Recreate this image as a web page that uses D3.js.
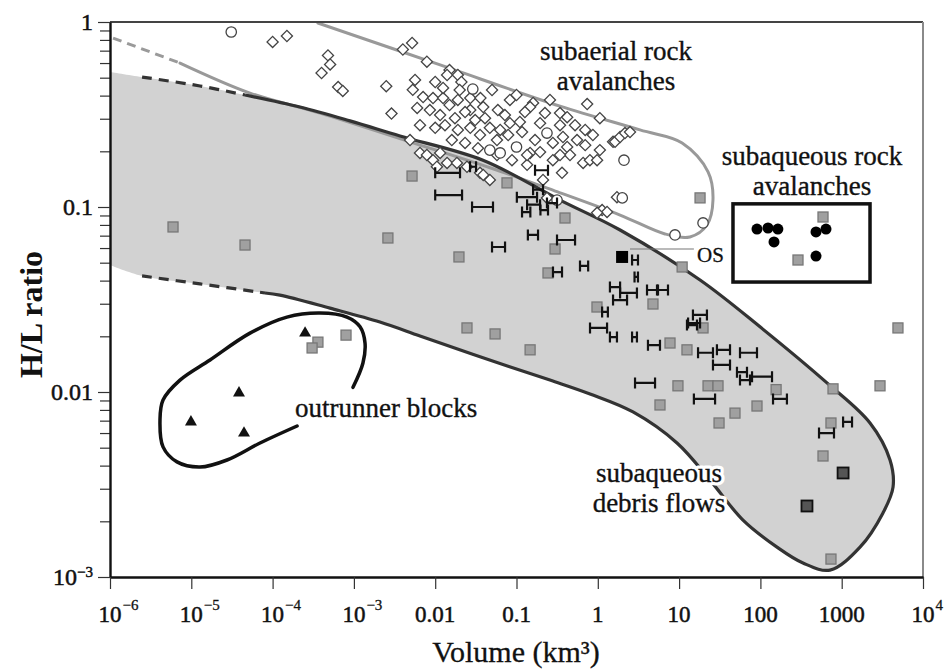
<!DOCTYPE html>
<html><head><meta charset="utf-8">
<script src="https://cdn.jsdelivr.net/npm/d3@7"></script>
<style>
body{margin:0;background:#fff}
text{font-family:"Liberation Serif","Times New Roman",serif;fill:#111}
</style>
</head><body>
<svg id="c" width="947" height="670"></svg>
<script>
// ---------------- DATA (volume km³, H/L ratio) ----------------
const xTickValues = [1e-6,1e-5,1e-4,1e-3,1e-2,1e-1,1,10,100,1000,1e4];
const xTickLabels = [["10","−6"],["10","−5"],["10","−4"],["10","−3"],["0.01",""],["0.1",""],["1",""],["10",""],["100",""],["1000",""],["10","4"]];
const yTickValues = [1e-3,1e-2,1e-1,1];
const yTickLabels = [["10","−3"],["0.01",""],["0.1",""],["1",""]];

// subaqueous debris flow envelope (grey field)
const debrisUpper = [[1e-6,0.537],[2.48e-6,0.504],[1.28e-5,0.451],[4.58e-5,0.403],[2.17e-4,0.347],[8.95e-4,0.292],[3.69e-3,0.242],[0.0387,0.179],[0.343,0.109],[1.88,0.0751],[18.1,0.0403],[98.9,0.0225],[659,0.0112],[2230,0.0068],[3930,0.00429],[4280,0.00306],[3220,0.00222],[1680,0.00145],[718,0.00109]];
const debrisLower = [[334,0.00119],[160,0.00145],[61.1,0.00203],[24.0,0.00334],[9.42,0.0053],[2.71,0.0078],[0.802,0.00976],[0.258,0.0116],[0.0356,0.0155],[6.5e-3,0.0201],[2.09e-3,0.0239],[5.08e-4,0.0284],[1.23e-4,0.0334],[8.07e-5,0.0343],[1.28e-5,0.0384],[2.48e-6,0.0424],[1e-6,0.0486]];
const debrisDashUpper = [[2.48e-6,0.504],[1.28e-5,0.451],[4.58e-5,0.403]];
const debrisDashLower = [[2.48e-6,0.0424],[1.28e-5,0.0384],[8.07e-5,0.0343]];

// subaerial rock avalanche envelope
const subaerialDash = [[1.09e-6,0.819],[7.26e-6,0.600]];
const subaerialEnvelope = [[7.26e-6,0.600],[5.27e-5,0.413],[3.83e-4,0.322],[4.9e-3,0.225],[0.0472,0.163],[0.315,0.121],[1.88,0.0905],[6.71,0.0715],[13.6,0.0689],[22.0,0.0799],[26.1,0.109],[22.7,0.155],[10.9,0.222],[3.30,0.261],[0.343,0.351],[0.0115,0.586],[3.61e-4,0.988]];

// outrunner blocks envelope
const outrunnerEnvelope = [[2.0e-4,0.00655],[7.0e-5,0.0053],[2.75e-5,0.00429],[1.28e-5,0.00393],[6.67e-6,0.00419],[4.49e-6,0.00505],[4.12e-6,0.00706],[4.49e-6,0.00905],[7.26e-6,0.0116],[1.70e-5,0.0149],[5.27e-5,0.0208],[1.50e-4,0.0254],[3.83e-4,0.0267],[8.22e-4,0.0254],[1.19e-3,0.0225],[1.37e-3,0.0184],[1.29e-3,0.0143],[9.75e-4,0.0106]];

// subaqueous rock avalanche box corners
const rockBox = [[46.0,0.104],[2230,0.0393]];
// OS leader line
const osLeader = [[2.49,0.0593],[15.2,0.0593]];

// subaerial rock avalanches (open diamonds)
const subaerialDiamonds = [[1.0e-4,0.78],[1.5e-4,0.84],[4.8e-4,0.66],[5.1e-4,0.59],[4.0e-4,0.53],[6.4e-4,0.445],[7.3e-4,0.424],[2.5e-3,0.45],[4.0e-3,0.71],[5.2e-3,0.77],[7.9e-3,0.61],[0.010,0.474],[5.3e-3,0.43],[2.9e-3,0.32],[6.0e-3,0.343],[0.015,0.55],[0.014,0.517],[0.019,0.517],[0.021,0.474],[0.020,0.429],[0.050,0.429],[7.1e-3,0.393],[9.4e-3,0.388],[0.0125,0.388],[0.10,0.403],[0.16,0.365],[0.147,0.347],[0.74,0.36],[0.059,0.334],[0.039,0.347],[0.027,0.334],[0.195,0.284],[0.083,0.284],[0.11,0.288],[0.343,0.322],[0.42,0.306],[0.373,0.239],[0.28,0.222],[0.42,0.211],[0.555,0.23],[0.147,0.196],[0.195,0.198],[0.0575,0.23],[0.66,0.173],[0.80,0.179],[0.98,0.179],[1.54,0.225],[0.363,0.153],[4.9e-3,0.23],[6.5e-3,0.196],[7.9e-3,0.191],[9.4e-3,0.179],[0.0115,0.196],[0.014,0.173],[0.0185,0.173],[0.0246,0.165],[0.0356,0.153],[0.047,0.14],[0.0105,0.165],[0.237,0.112],[1.13,0.0963],[1.30,0.094],[1.72,0.113],[1.63,0.225],[1.88,0.239],[2.16,0.251],[2.49,0.254],[8.6e-3,0.334],[0.0115,0.314],[0.015,0.356],[0.0175,0.302],[0.0233,0.326],[0.031,0.295],[0.041,0.302],[0.0132,0.277],[0.019,0.261],[0.027,0.268],[0.0356,0.245],[0.047,0.268],[0.010,0.268],[0.016,0.23],[0.0233,0.222],[0.0336,0.208],[0.063,0.261],[0.079,0.245],[0.083,0.379],[0.127,0.326],[0.072,0.314],[0.258,0.379],[0.224,0.322],[0.169,0.23],[0.117,0.254],[0.343,0.277],[0.525,0.277],[0.70,0.261],[0.87,0.245],[1.06,0.302],[0.455,0.191],[0.28,0.179],[0.135,0.169],[0.088,0.179],[6.5e-3,0.277],[5.65e-3,0.486],[0.027,0.388],[0.036,0.388],[0.019,0.379],[0.0125,0.44],[1.06,0.203],[0.70,0.216],[0.212,0.14],[0.98,0.093],[0.039,0.149],[0.343,0.191],[0.0575,0.191],[0.135,0.191]];
// subaerial rock avalanches (open circles)
const subaerialCircles = [[3.1e-5,0.883],[2.1,0.179],[2.0,0.112],[19.7,0.082],[8.9,0.0706],[0.315,0.109],[0.029,0.434],[0.237,0.251],[0.10,0.211],[0.063,0.196],[0.047,0.203]];

// subaqueous debris flows (grey squares)
const debrisSquares = [[5.96e-6,0.078],[4.58e-5,0.0623],[2.62e-3,0.068],[0.0196,0.0537],[5.19e-3,0.147],[0.0764,0.135],[0.395,0.0872],[0.298,0.0593],[0.244,0.044],[0.977,0.0288],[4.77,0.0299],[10.9,0.0474],[0.0246,0.0222],[0.0545,0.0206],[0.147,0.0169],[7.73,0.0184],[12.5,0.0169],[9.68,0.0108],[5.82,0.00851],[18.1,0.112],[19.7,0.0222],[22.7,0.0108],[30.1,0.0108],[48.7,0.00769],[31.0,0.0068],[90.8,0.0084],[156,0.0103],[782,0.0104],[2960,0.0108],[4920,0.0222],[738,0.0068],[589,0.00451],[738,0.00125],[589,0.0883],[290,0.0517],[3.61e-4,0.0186],[3.06e-4,0.0173],[8.0e-4,0.0203]];
const darkSquares = [[1040,0.00365],[374,0.00242]];
const blackSquares = [[1.99,0.0537]];

// volume ranges (horizontal bars): [Vmin, Vmax, H/L]
const volumeRanges = [[0.0100,0.0202,0.153],[0.0100,0.0214,0.116],[0.0284,0.0514,0.100],[0.101,0.179,0.113],[0.135,0.195,0.103],[0.237,0.315,0.105],[0.160,0.212,0.124],[0.169,0.244,0.158],[0.138,0.184,0.0706],[0.315,0.525,0.0663],[0.0500,0.0723,0.0608],[0.604,0.761,0.048],[0.281,0.363,0.0445],[1.41,1.88,0.0369],[1.88,3.03,0.0343],[1.54,2.29,0.0314],[4.03,5.35,0.0356],[5.50,7.30,0.0356],[2.64,3.12,0.0517],[2.83,3.12,0.0419],[1.13,1.33,0.0271],[0.802,1.30,0.0222],[1.41,1.72,0.0198],[2.64,3.03,0.0198],[4.14,5.82,0.0179],[2.87,5.06,0.0112],[12.9,18.1,0.0236],[14.8,22.0,0.0261],[12.5,16.6,0.0230],[17.1,26.1,0.0163],[29.2,42.3,0.0169],[56.1,90.8,0.0163],[26.1,42.3,0.0140],[51.5,68.4,0.0128],[78.9,139,0.0121],[56.1,74.5,0.0116],[15.2,27.7,0.00917],[143,212,0.00917],[1040,1340,0.00689],[526,804,0.0060],[0.0268,0.0318,0.165],[0.117,0.148,0.0939],[0.197,0.244,0.0963]];

// outrunner blocks (triangles)
const outrunnerBlocks = [[2.51e-4,0.0208],[3.86e-5,0.00988],[9.9e-6,0.00689],[4.45e-5,0.0060]];
// subaqueous rock avalanches (black dots)
const subaqueousRock = [[90.8,0.076],[124,0.077],[164,0.076],[147,0.0647],[483,0.0733],[641,0.076],[483,0.0543]];

// ---------------- DRAWING ----------------
const m = {l:110, r:923, t:22, b:577};
const x = d3.scaleLog().domain([1e-6,1e4]).range([m.l,m.r]);
const y = d3.scaleLog().domain([1e-3,1]).range([m.b,m.t]);
const svg = d3.select("#c");

svg.append("defs").append("clipPath").attr("id","plot")
  .append("rect").attr("x",m.l).attr("y",m.t).attr("width",m.r-m.l).attr("height",m.b-m.t);
const g = svg.append("g").attr("clip-path","url(#plot)");

const smooth = d3.line().x(d=>x(d[0])).y(d=>y(d[1])).curve(d3.curveCatmullRom.alpha(0.5));
const straight = d3.line().x(d=>x(d[0])).y(d=>y(d[1]));

// grey field
g.append("path").attr("d", smooth(debrisUpper.concat(debrisLower))+"Z")
  .attr("fill","#d2d2d2").attr("stroke","none");

// subaerial envelope
g.append("path").attr("d", straight(subaerialDash)).attr("fill","none")
  .attr("stroke","#9a9a9a").attr("stroke-width",3).attr("stroke-dasharray","9,6");
g.append("path").attr("d", smooth(subaerialEnvelope)).attr("fill","none")
  .attr("stroke","#999").attr("stroke-width",3).attr("stroke-linecap","round");

// debris outline
g.append("path").attr("d", smooth(debrisUpper.slice(3).concat(debrisLower.slice(0,14))))
  .attr("fill","none").attr("stroke","#333").attr("stroke-width",3.2);
[debrisDashUpper, debrisDashLower].forEach(p=>{
  g.append("path").attr("d", smooth(p)).attr("fill","none")
   .attr("stroke","#333").attr("stroke-width",3.2).attr("stroke-dasharray","10,7");
});

// outrunner envelope
g.append("path").attr("d", smooth(outrunnerEnvelope)).attr("fill","none")
  .attr("stroke","#111").attr("stroke-width",3.5).attr("stroke-linecap","round");

// OS leader
g.append("path").attr("d", straight(osLeader)).attr("stroke","#777").attr("stroke-width",1.2);

// squares
const sq = 10;
g.selectAll(".sq").data(debrisSquares).join("rect")
  .attr("x",d=>x(d[0])-sq/2).attr("y",d=>y(d[1])-sq/2).attr("width",sq).attr("height",sq)
  .attr("fill","#a0a0a0").attr("stroke","#777").attr("stroke-width",1.3);
g.selectAll(".dsq").data(darkSquares).join("rect")
  .attr("x",d=>x(d[0])-5.5).attr("y",d=>y(d[1])-5.5).attr("width",11).attr("height",11)
  .attr("fill","#555").attr("stroke","#111").attr("stroke-width",1.8);
g.selectAll(".bsq").data(blackSquares).join("rect")
  .attr("x",d=>x(d[0])-6).attr("y",d=>y(d[1])-6).attr("width",12).attr("height",12)
  .attr("fill","#000");

// diamonds
const diamond = d3.symbol().type(d3.symbolSquare).size(62);
g.selectAll(".dia").data(subaerialDiamonds).join("path")
  .attr("d", diamond)
  .attr("transform", d=>`translate(${x(d[0])},${y(d[1])}) rotate(45)`)
  .attr("fill","#fff").attr("stroke","#444").attr("stroke-width",1.3);
g.selectAll(".cir").data(subaerialCircles).join("circle")
  .attr("cx",d=>x(d[0])).attr("cy",d=>y(d[1])).attr("r",5.2)
  .attr("fill","#fff").attr("stroke","#444").attr("stroke-width",1.3);

// volume ranges
const cap = 5.5;
const rg = g.append("g").attr("stroke","#111").attr("stroke-width",2.2).attr("fill","none");
rg.selectAll("path").data(volumeRanges).join("path")
  .attr("d", d=>{
    const x0=x(d[0]), x1=x(d[1]), yy=y(d[2]);
    return `M${x0},${yy}H${x1}M${x0},${yy-cap}V${yy+cap}M${x1},${yy-cap}V${yy+cap}`;
  });

// triangles
const tri = d3.symbol().type(d3.symbolTriangle).size(62);
g.selectAll(".tri").data(outrunnerBlocks).join("path")
  .attr("d", tri).attr("transform", d=>`translate(${x(d[0])},${y(d[1])})`)
  .attr("fill","#111");

// subaqueous rock avalanche box and dots
g.append("rect").attr("x",x(rockBox[0][0])).attr("y",y(rockBox[0][1]))
  .attr("width",x(rockBox[1][0])-x(rockBox[0][0])).attr("height",y(rockBox[1][1])-y(rockBox[0][1]))
  .attr("fill","none").attr("stroke","#111").attr("stroke-width",3.5);
g.selectAll(".bd").data(subaqueousRock).join("circle")
  .attr("cx",d=>x(d[0])).attr("cy",d=>y(d[1])).attr("r",5.5).attr("fill","#000");

// annotation text (white halo underneath, slightly heavy ink on top)
const ann = (lines, cx, by, anchor) => {
  lines.forEach((t,i)=>{
    svg.append("text").attr("x",cx).attr("y",by+i*30).attr("text-anchor",anchor)
      .attr("font-size",27).attr("stroke","#fff").attr("stroke-width",7)
      .attr("stroke-linejoin","round").style("fill","#fff").text(t);
    svg.append("text").attr("x",cx).attr("y",by+i*30).attr("text-anchor",anchor)
      .attr("font-size",27).attr("stroke","#111").attr("stroke-width",0.35).text(t);
  });
};
ann(["subaerial rock","avalanches"], 616, 60, "middle");
ann(["subaqueous rock","avalanches"], 812, 165, "middle");
ann(["outrunner blocks"], 295, 417, "start");
ann(["subaqueous","debris flows"], 659, 482, "middle");
svg.append("text").attr("x",697).attr("y",262).attr("font-size",21)
  .attr("stroke","#111").attr("stroke-width",0.3).text("OS");

// frame
svg.append("line").attr("x1",m.l).attr("x2",m.r).attr("y1",m.t).attr("y2",m.t).attr("stroke","#444").attr("stroke-width",2);
svg.append("line").attr("x1",m.r).attr("x2",m.r).attr("y1",m.t).attr("y2",m.b).attr("stroke","#8a8a8a").attr("stroke-width",2);

// axes
const isMajor = v => Math.abs(Math.log10(v) - Math.round(Math.log10(v))) < 1e-9;
const yMinor = y.ticks().filter(v=>!isMajor(v));
const xMinor = x.ticks().filter(v=>!isMajor(v));

const styleAxis = sel => {
  sel.select(".domain").attr("stroke","#111").attr("stroke-width",2.4);
  sel.selectAll(".tick line").attr("stroke","#333").attr("stroke-width",1.2);
};
const gyMin = svg.append("g").attr("transform",`translate(${m.l},0)`)
  .call(d3.axisLeft(y).tickValues(yMinor).tickSize(10).tickSizeOuter(0).tickFormat(""));
gyMin.select(".domain").remove(); styleAxis(gyMin);
const gy = svg.append("g").attr("transform",`translate(${m.l},0)`)
  .call(d3.axisLeft(y).tickValues(yTickValues).tickSize(12).tickSizeOuter(0).tickFormat(""));
styleAxis(gy);

const gxMin = svg.append("g").attr("transform",`translate(0,${m.b})`)
  .call(d3.axisBottom(x).tickValues(xMinor).tickSize(8).tickSizeOuter(0).tickFormat(""));
gxMin.select(".domain").remove(); styleAxis(gxMin);
const gx = svg.append("g").attr("transform",`translate(0,${m.b})`)
  .call(d3.axisBottom(x).tickValues(xTickValues).tickSize(12).tickSizeOuter(0).tickFormat(""));
styleAxis(gx);

// y tick labels
yTickValues.forEach((v,i)=>{
  const [base,sup] = yTickLabels[i];
  const t = svg.append("text").attr("x",m.l-17).attr("y",y(v)).attr("dy","0.33em")
    .attr("text-anchor","end").attr("font-size",24).attr("stroke","#111").attr("stroke-width",0.5);
  t.append("tspan").text(base);
  if (sup) t.append("tspan").attr("dy","-0.55em").attr("font-size",15).text(sup);
});
// x tick labels
xTickValues.forEach((v,i)=>{
  const [base,sup] = xTickLabels[i];
  const bt = svg.append("text").attr("x",x(v)).attr("y",622).attr("text-anchor","middle")
    .attr("font-size",23).attr("stroke","#111").attr("stroke-width",0.5).text(base);
  if (sup) {
    const w = bt.node().getComputedTextLength();
    svg.append("text").attr("x",x(v)+w/2+1).attr("y",610).attr("font-size",15)
      .attr("stroke","#111").attr("stroke-width",0.3).text(sup);
  }
});

// axis titles
svg.append("text").attr("x",516).attr("y",662).attr("text-anchor","middle").attr("font-size",30)
  .attr("stroke","#111").attr("stroke-width",0.3).text("Volume (km³)");
svg.append("text").attr("transform",`translate(42,${(m.t+m.b)/2+15}) rotate(-90)`)
  .attr("text-anchor","middle").attr("font-size",32).attr("font-weight","bold").text("H/L ratio");
</script>
</body></html>
